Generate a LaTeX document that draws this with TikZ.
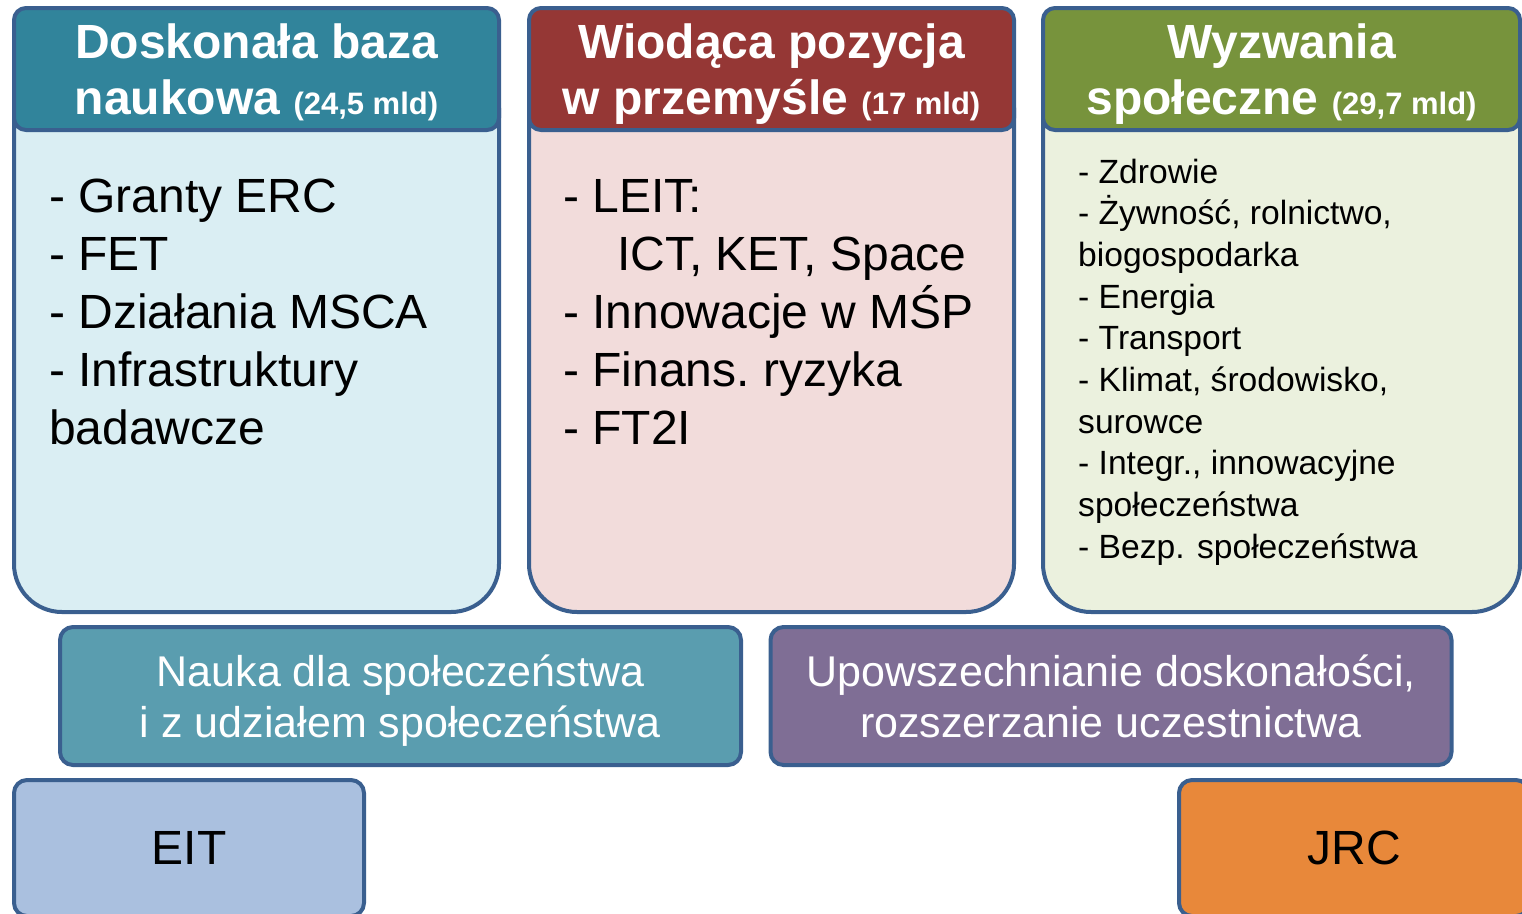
\documentclass[tikz,border=0pt]{standalone}
\usepackage{fontspec}
\setmainfont{Liberation Sans}
\definecolor{bordc}{HTML}{3A5F8F}
\definecolor{hA}{HTML}{31849B}
\definecolor{bA}{HTML}{DAEEF3}
\definecolor{hB}{HTML}{953735}
\definecolor{bB}{HTML}{F2DCDB}
\definecolor{hC}{HTML}{77933C}
\definecolor{bC}{HTML}{EBF1DE}
\definecolor{naukac}{HTML}{5A9DAF}
\definecolor{upowc}{HTML}{7F6E95}
\definecolor{eitc}{HTML}{AAC0DF}
\definecolor{jrcc}{HTML}{E8883A}
\tikzset{
  box/.style={draw=bordc, line width=4pt, rectangle, inner sep=0pt, outer sep=0pt},
  headbox/.style={box, rounded corners=12pt, minimum height=122pt, text=white, align=center,
    text depth=0pt, font=\bfseries\fontsize{48}{56}\selectfont},
  bodybox/.style={box, rounded corners=48pt, minimum height=552pt},
  midbox/.style={box, rounded corners=13pt, minimum width=681pt, minimum height=138pt, text=white,
    align=center, text depth=0pt, font=\fontsize{43}{51}\selectfont},
  lowbox/.style={box, rounded corners=13pt, minimum width=350pt, minimum height=136pt,
    text depth=0pt, font=\fontsize{48}{52}\selectfont},
  bigtxt/.style={anchor=base west, align=left, inner sep=0pt, font=\fontsize{48}{58}\selectfont\frenchspacing},
  smalltxt/.style={anchor=base west, align=left, inner sep=0pt, font=\fontsize{33.6}{41.7}\selectfont}
}
\newcommand{\mld}[1]{{\fontsize{31}{31}\selectfont(#1 mld)}}
\begin{document}
\begin{tikzpicture}[x=1pt,y=-1pt]
\useasboundingbox (0,0) rectangle (1522,913);
% bodies
\node[bodybox, fill=bA, minimum width=485pt] (bodyA) at (256.5,336) {};
\node[bodybox, fill=bB, minimum width=485pt] (bodyB) at (771.5,336) {};
\node[bodybox, fill=bC, minimum width=477pt] (bodyC) at (1281.5,336) {};
% headers
\node[headbox, fill=hA, minimum width=485pt] (headA) at (256.5,69) {Doskonała baza\\naukowa \mld{24,5}};
\node[headbox, fill=hB, minimum width=485pt] (headB) at (771.5,69) {Wiodąca pozycja\\w przemyśle \mld{17}};
\node[headbox, fill=hC, minimum width=477pt] (headC) at (1281.5,69) {Wyzwania\\społeczne \mld{29,7}};
% body texts (anchored at the baseline of the last line)
\node[bigtxt] (txtA) at (49,444) {- Granty ERC\\- FET\\- Działania MSCA\\- Infrastruktury\\badawcze};
\node[bigtxt] (txtB) at (563,444) {- LEIT:\\\hspace*{54pt}ICT, KET, Space\\- Innowacje w MŚP\\- Finans. ryzyka\\- FT2I};
\node[smalltxt] (txtC) at (1078,558.3) {- Zdrowie\\- Żywność, rolnictwo,\\biogospodarka\\- Energia\\- Transport\\- Klimat, środowisko,\\surowce\\- Integr., innowacyjne\\społeczeństwa\\- Bezp. społeczeństwa};
% middle row
\node[midbox, fill=naukac] (nauka) at (400.5,696) {Nauka dla społeczeństwa\\i z udziałem społeczeństwa};
\node[midbox, fill=upowc] (upow) at (1111,696) {Upowszechnianie doskonałości,\\rozszerzanie uczestnictwa};
% bottom row
\node[lowbox, fill=eitc] (eit) at (189,848) {EIT};
\node[lowbox, fill=jrcc] (jrc) at (1354,848) {JRC};
\end{tikzpicture}
\end{document}
